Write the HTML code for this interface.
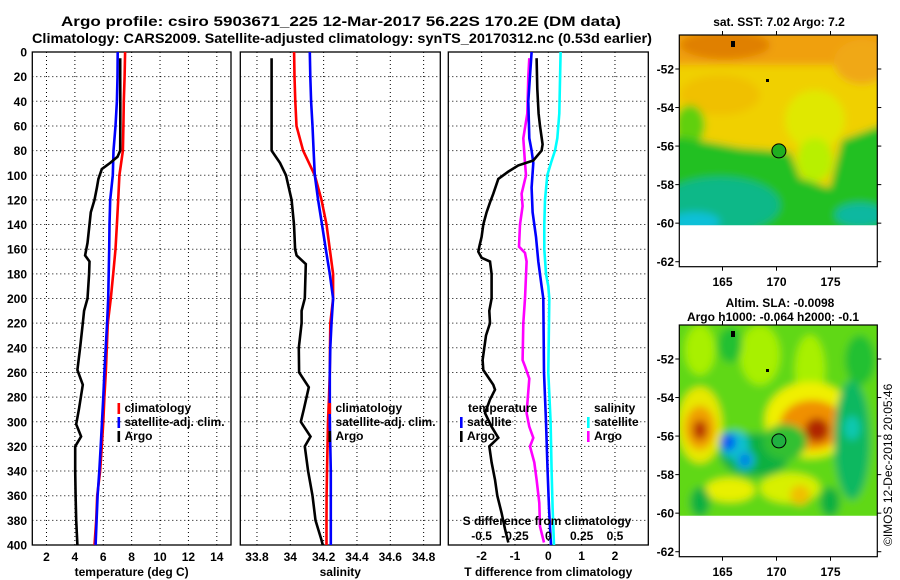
<!DOCTYPE html>
<html><head><meta charset="utf-8">
<style>
html,body{margin:0;padding:0;background:#fff;}
svg{display:block;font-family:"Liberation Sans",Arial,sans-serif;font-weight:bold;}
text{font-size:12px;fill:#000;}
</style></head>
<body>
<svg id="fig" width="900" height="580" viewBox="0 0 900 580" xmlns="http://www.w3.org/2000/svg">
<defs>
<clipPath id="c1"><rect x="679.3" y="35" width="198" height="190.3"/></clipPath>
<clipPath id="c2"><rect x="679.3" y="325" width="198" height="190.7"/></clipPath>
<filter id="bl" x="-20%" y="-20%" width="140%" height="140%"><feGaussianBlur stdDeviation="4"/></filter>
</defs>
<text x="341" y="26" text-anchor="middle" style="font-size:13.5px" textLength="560" lengthAdjust="spacingAndGlyphs">Argo profile: csiro 5903671_225 12-Mar-2017 56.22S 170.2E (DM data)</text>
<text x="342" y="43" text-anchor="middle" style="font-size:13.5px" textLength="620" lengthAdjust="spacingAndGlyphs">Climatology: CARS2009. Satellite-adjusted climatology: synTS_20170312.nc (0.53d earlier)</text>

<!-- SST map -->
<g>
<g clip-path="url(#c1)"><g filter="url(#bl)">
<rect x="670" y="25" width="220" height="210" fill="#f0d000"/>
<rect x="670" y="25" width="220" height="40" fill="#f0a010"/>
<ellipse cx="725" cy="45" rx="45" ry="14" fill="#e08000"/>
<ellipse cx="862" cy="62" rx="28" ry="22" fill="#f0a818"/>
<ellipse cx="720" cy="95" rx="40" ry="20" fill="#f0c000"/>
<ellipse cx="815" cy="120" rx="30" ry="30" fill="#e0e800"/>
<ellipse cx="690" cy="125" rx="15" ry="20" fill="#60d010"/>
<path d="M670,135 L740,148 L790,152 L800,178 L830,188 L842,140 L890,122 L890,235 L670,235 Z" fill="#20c020"/>
<ellipse cx="815" cy="160" rx="18" ry="22" fill="#b8f000"/>
<ellipse cx="720" cy="205" rx="60" ry="28" fill="#10b888"/>
<ellipse cx="695" cy="222" rx="25" ry="10" fill="#10c0d8"/>
<ellipse cx="860" cy="215" rx="25" ry="12" fill="#10b8a0"/>
</g>
<rect x="731" y="41" width="4" height="6" fill="#000"/>
<rect x="766" y="79" width="3" height="3" fill="#000"/>
</g>
<circle cx="778.9" cy="150.9" r="7" fill="#20b020" stroke="#000" stroke-width="1"/>
<rect x="679.3" y="35" width="198" height="231.7" fill="none" stroke="#000" stroke-width="1.2"/>
<text x="779" y="26" text-anchor="middle">sat. SST: 7.02 Argo: 7.2</text>
<g id="sstAxes"></g>
</g>

<!-- SLA map -->
<g>
<g clip-path="url(#c2)"><g filter="url(#bl)">
<rect x="670" y="315" width="220" height="210" fill="#60d818"/>
<ellipse cx="760" cy="355" rx="20" ry="30" fill="#a8f000"/>
<ellipse cx="810" cy="370" rx="15" ry="35" fill="#a8f000"/>
<ellipse cx="700" cy="350" rx="15" ry="25" fill="#a8f000"/>
<ellipse cx="730" cy="345" rx="12" ry="18" fill="#20c030"/>
<ellipse cx="860" cy="360" rx="15" ry="25" fill="#20c030"/>
<ellipse cx="700" cy="425" rx="22" ry="38" fill="#e8e800"/>
<ellipse cx="700" cy="428" rx="15" ry="22" fill="#f0a000"/>
<ellipse cx="700" cy="430" rx="7" ry="10" fill="#b83000"/>
<ellipse cx="810" cy="420" rx="45" ry="38" fill="#f0f000"/>
<ellipse cx="812" cy="425" rx="32" ry="25" fill="#f09000"/>
<ellipse cx="817" cy="430" rx="12" ry="12" fill="#b02800"/>
<ellipse cx="755" cy="455" rx="35" ry="22" fill="#10b040"/>
<ellipse cx="785" cy="442" rx="22" ry="18" fill="#30c030"/>
<ellipse cx="735" cy="445" rx="14" ry="14" fill="#10c0d0"/>
<ellipse cx="728" cy="442" rx="8" ry="9" fill="#0060f0"/>
<ellipse cx="745" cy="460" rx="10" ry="10" fill="#10b8d0"/>
<ellipse cx="745" cy="460" rx="5" ry="6" fill="#0070e8"/>
<ellipse cx="852" cy="440" rx="18" ry="60" fill="#10b860"/>
<ellipse cx="852" cy="428" rx="8" ry="12" fill="#10c8b0"/>
<ellipse cx="730" cy="490" rx="25" ry="12" fill="#e8f000"/>
<ellipse cx="790" cy="488" rx="30" ry="15" fill="#d8f000"/>
<ellipse cx="800" cy="495" rx="10" ry="10" fill="#f0c000"/>
<ellipse cx="700" cy="502" rx="10" ry="15" fill="#10b040"/>
<ellipse cx="830" cy="502" rx="10" ry="15" fill="#10b040"/>
</g>
<rect x="731" y="331" width="4" height="6" fill="#000"/>
<rect x="766" y="369" width="3" height="3" fill="#000"/>
</g>
<circle cx="778.9" cy="440.9" r="7" fill="#20b040" stroke="#000" stroke-width="1"/>
<rect x="679.3" y="325" width="198" height="231.7" fill="none" stroke="#000" stroke-width="1.2"/>
<text x="780" y="307" text-anchor="middle">Altim. SLA: -0.0098</text>
<text x="773" y="321" text-anchor="middle">Argo h1000: -0.064 h2000: -0.1</text>
<g id="slaAxes"></g>
</g>
<text transform="translate(892,546) rotate(-90)" style="font-size:12px;font-weight:normal">©IMOS 12-Dec-2018 20:05:46</text>
<g id="charts"></g>
</svg>
<script>
// ---- data ----
const tDepth=[0,20,40,60,80,100,120,140,160,180,200,220,240,260,280,300,320,340,360,380,400];
const tClim=[7.54,7.5,7.45,7.42,7.38,7.14,7.05,6.96,6.86,6.7,6.53,6.32,6.25,6.18,6.08,6.0,5.9,5.78,5.57,5.5,5.38];
const tSat=[7.02,7.0,6.96,6.86,6.72,6.67,6.49,6.44,6.42,6.38,6.35,6.27,6.17,6.08,6.0,5.91,5.82,5.72,5.6,5.53,5.46];
const argoTDepth=[5,20,40,60,80,85,90,95,103,110,120,130,140,155,165,170,180,200,210,220,240,258,270,290,302,312,320,340,360,380,400];
const argoT=[7.19,7.19,7.2,7.2,7.19,7.0,6.49,5.9,5.66,5.55,5.38,5.12,5.03,4.89,4.72,5.03,5.0,4.89,4.65,4.56,4.37,4.18,4.56,4.28,4.09,4.44,4.02,4.02,4.05,4.09,4.18];
const sClim=[34.023,34.025,34.03,34.037,34.077,34.147,34.187,34.217,34.237,34.257,34.257,34.24,34.238,34.237,34.232,34.226,34.223,34.22,34.218,34.217,34.217];
const sSat=[34.117,34.12,34.125,34.133,34.14,34.147,34.167,34.19,34.213,34.237,34.257,34.247,34.24,34.237,34.237,34.237,34.24,34.243,34.243,34.243,34.243];
const argoSDepth=[5,40,80,90,100,120,140,160,165,172,200,210,220,240,260,272,290,300,312,320,340,360,380,395,400];
const argoS=[33.888,33.888,33.888,33.938,33.974,34.008,34.022,34.029,34.038,34.093,34.087,34.068,34.068,34.051,34.053,34.111,34.081,34.063,34.121,34.087,34.107,34.133,34.151,34.185,34.195];
const dTArgoDepth=[5,30,50,60,75,80,88,92,97,103,115,122,130,140,150,158,162,167,170,180,200,210,220,230,250,258,262,270,274,282,293,304,313,320,333,347,360,374,387,398];
const dTArgo=[-0.35,-0.33,-0.29,-0.25,-0.17,-0.2,-0.45,-0.9,-1.2,-1.5,-1.65,-1.75,-1.85,-1.95,-2.0,-2.07,-2.1,-2.0,-1.75,-1.7,-1.7,-1.77,-1.75,-1.87,-1.97,-1.95,-1.85,-1.65,-1.6,-1.75,-1.9,-1.7,-1.5,-1.77,-1.7,-1.6,-1.53,-1.4,-1.3,-1.2];
const dSArgoDepth=[5,20,50,70,90,100,115,125,140,158,163,170,200,220,250,255,265,293,304,313,320,333,347,366,385,398];
const dSArgo=[-0.1425,-0.15,-0.1575,-0.1875,-0.175,-0.1675,-0.2,-0.1925,-0.2125,-0.22,-0.175,-0.1625,-0.175,-0.1875,-0.1925,-0.175,-0.1425,-0.1625,-0.1425,-0.1125,-0.1375,-0.105,-0.0875,-0.0675,-0.0625,-0.0325];
const dTSatDepth=[0,40,70,80,90,110,130,150,170,190,200,260,300,340,370,400];
const dTSat=[-0.5,-0.6,-0.57,-0.5,-0.45,-0.5,-0.47,-0.37,-0.3,-0.2,-0.15,-0.13,-0.07,-0.02,0.02,0.08];
const dSSatDepth=[0,50,70,80,90,100,120,140,160,180,190,200,260,300,340,370,400];
const dSSat=[0.0925,0.0825,0.0675,0.05,0.02,-0.0075,-0.025,-0.03,-0.03,-0.0175,0,0.0075,0,0.0175,0.025,0.0325,0.0425];
const depthTicks=[0,20,40,60,80,100,120,140,160,180,200,220,240,260,280,300,320,340,360,380,400];
const tTicks=[2,4,6,8,10,12,14];
const sTicks=[33.8,34,34.2,34.4,34.6,34.8];
const dTTicks=[-2,-1,0,1,2];
const dSTicks=[-0.5,-0.25,0,0.25,0.5];
const lonTicks=[165,170,175];
const latTicks=[-52,-54,-56,-58,-60,-62];

const NS='http://www.w3.org/2000/svg';
const root=document.getElementById('charts');
function mk(tag,attrs,parent){const e=document.createElementNS(NS,tag);for(const k in attrs)e.setAttribute(k,attrs[k]);(parent||root).appendChild(e);return e;}
const Y0=52,Y1=545;
function yD(d){return Y0+(d/400)*(Y1-Y0);}
function scaleX(x0,x1,a,b){return v=>x0+(v-a)/(b-a)*(x1-x0);}

const panels=[
 {x0:32.3,x1:231,a:1,b:15,ticks:tTicks,name:'temperature',title:'temperature (deg C)'},
 {x0:240.3,x1:440.3,a:33.7,b:34.9,ticks:sTicks,name:'salinity',title:'salinity'},
 {x0:448.3,x1:648.3,a:-3,b:3,ticks:dTTicks,name:'difference',title:'T difference from climatology'}
];
panels.forEach((p,i)=>{
  p.sx=scaleX(p.x0,p.x1,p.a,p.b);
  const g=mk('g',{});
  
  
  p.g=g;
  p.ticks.forEach(t=>{
    const x=p.sx(t);
    const l=mk('line',{x1:x,x2:x,y1:Y0,y2:Y1,stroke:'#000','stroke-width':1,'stroke-dasharray':'1,3'},g);
    
    
  });
  depthTicks.slice(1,-1).forEach(d=>{
    const y=yD(d);
    const l=mk('line',{x1:p.x0,x2:p.x1,y1:y,y2:y,stroke:'#000','stroke-width':1,'stroke-dasharray':'1,3'},g);
    
    
  });
  const fr=mk('rect',{x:p.x0,y:Y0,width:p.x1-p.x0,height:Y1-Y0,fill:'none',stroke:'#000','stroke-width':1.3},g);
  
  
  const labY = i===2?560:561;
  p.ticks.forEach(t=>{
    const tx=mk('text',{x:p.sx(t),y:labY,'text-anchor':'middle'},g);
    tx.textContent=String(t);
    
    
  });
  const tt=mk('text',{x:(p.x0+p.x1)/2,y:576,'text-anchor':'middle'},g);
  tt.textContent=p.title;
  
  
});
depthTicks.forEach(d=>{
  const tx=mk('text',{x:27,y:yD(d)+4.5,'text-anchor':'end'});
  tx.textContent=String(d);
  
  
});
function line(p,depths,vals,color,name,conv){
  const pts=depths.map((d,k)=>p.sx(conv?conv(vals[k]):vals[k]).toFixed(1)+','+yD(d).toFixed(1)).join(' ');
  const l=mk('polyline',{points:pts,fill:'none',stroke:color,'stroke-width':2.6,'stroke-linejoin':'miter'},p.g);
  
  
}
const [P1,P2,P3]=panels;
line(P1,tDepth,tClim,'#ff0000','temperature-climatology-line');
line(P1,tDepth,tSat,'#0000ff','temperature-satellite-line');
line(P1,argoTDepth,argoT,'#000000','temperature-argo-line');
line(P2,tDepth,sClim,'#ff0000','salinity-climatology-line');
line(P2,tDepth,sSat,'#0000ff','salinity-satellite-line');
line(P2,argoSDepth,argoS,'#000000','salinity-argo-line');
const s2t=v=>v*4;
line(P3,dSSatDepth,dSSat,'#00ffff','s-diff-satellite-line',s2t);
line(P3,dSArgoDepth,dSArgo,'#ff00ff','s-diff-argo-line',s2t);
line(P3,dTSatDepth,dTSat,'#0000ff','t-diff-satellite-line');
line(P3,dTArgoDepth,dTArgo,'#000000','t-diff-argo-line');
dSTicks.forEach((s,k)=>{
  const tx=mk('text',{x:P3.sx(dTTicks[k]),y:540,'text-anchor':'middle'},P3.g);
  tx.textContent=String(s);
  
  
});
const sdt=mk('text',{x:547,y:525,'text-anchor':'middle'},P3.g);
sdt.textContent='S difference from climatology';


function legend(g,x,y,color,label){
  const r=mk('rect',{x:x,y:y-9,width:2.6,height:11,fill:color},g);
  
  
  const t=mk('text',{x:x+7,y:y},g);
  t.textContent=label;
  
  
}
legend(P1.g,117.5,412,'#ff0000','climatology');
legend(P1.g,117.5,426,'#0000ff','satellite-adj. clim.');
legend(P1.g,117.5,440,'#000000','Argo');
legend(P2.g,328.5,412,'#ff0000','climatology');
legend(P2.g,328.5,426,'#0000ff','satellite-adj. clim.');
legend(P2.g,328.5,440,'#000000','Argo');
const th=mk('text',{x:468,y:412},P3.g);th.textContent='temperature';


legend(P3.g,460,426,'#0000ff','satellite');
legend(P3.g,460,440,'#000000','Argo');
const sh=mk('text',{x:594,y:412},P3.g);sh.textContent='salinity';


legend(P3.g,587,426,'#00ffff','satellite');
legend(P3.g,587,440,'#ff00ff','Argo');
function mapAxes(id,top){
  const g=document.getElementById(id);
  const lx=v=>679.3+(v-161)*10.8;
  const ly=v=>top+34+(-52-v)*19.27;
  lonTicks.forEach(v=>{
    const x=lx(v);
    mk('line',{x1:x,x2:x,y1:top,y2:top-4,stroke:'#000'},g);
    mk('line',{x1:x,x2:x,y1:top+231.7,y2:top+235.7,stroke:'#000'},g);
    const t=mk('text',{x:x,y:top+251,'text-anchor':'middle'},g);
    t.textContent=String(v);
    
    
  });
  latTicks.forEach(v=>{
    const y=ly(v);
    mk('line',{x1:679.3,x2:675.3,y1:y,y2:y,stroke:'#000'},g);
    mk('line',{x1:877.3,x2:881.3,y1:y,y2:y,stroke:'#000'},g);
    const t=mk('text',{x:674,y:y+4.5,'text-anchor':'end'},g);
    t.textContent=String(v);
    
    
  });
}
mapAxes('sstAxes',35);
mapAxes('slaAxes',325);
</script>
</body></html>
